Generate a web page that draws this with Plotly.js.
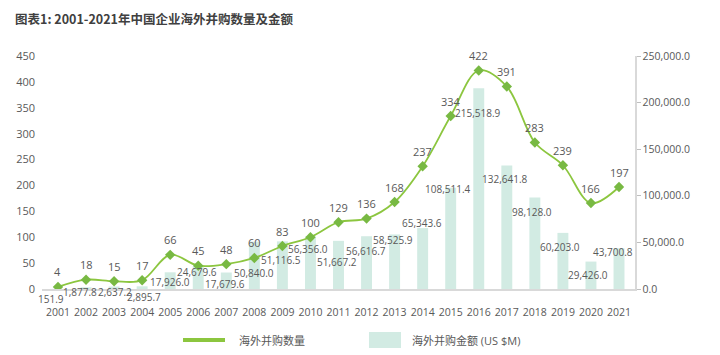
<!DOCTYPE html>
<html>
<head>
<meta charset="utf-8">
<script src="https://cdn.plot.ly/plotly-3.0.1.min.js"></script>
<style>
  html, body { margin: 0; padding: 0; background: #ffffff; }
  #chart { width: 720px; height: 355px; }
</style>
</head>
<body>
<div id="chart"></div>
<script>
// ---- data ----
const years = ['2001','2002','2003','2004','2005','2006','2007','2008','2009','2010','2011',
               '2012','2013','2014','2015','2016','2017','2018','2019','2020','2021'];
const dealCount = [4, 18, 15, 17, 66, 45, 48, 60, 83, 100, 129, 136, 168, 237, 334, 422, 391, 283, 239, 166, 197];
const dealValue = [151.9, 1877.8, 2637.2, 2895.7, 17926.0, 24679.6, 17679.6, 50840.0, 51116.5, 56356.0, 51667.2,
                   56616.7, 58525.9, 65343.6, 108511.4, 215518.9, 132641.8, 98128.0, 60203.0, 29426.0, 43700.8];
const countName = '海外并购数量';
const valueName = '海外并购金额 (US $M)';
const titleText = '图表1: 2001-2021年中国企业海外并购数量及金额';

// ---- label placement (pixel offsets of the value labels from each bar top: [dx, dy-below]) ----
const valueLabelShift = [[-7,10],[-6,5],[1,5.5],[2,10.7],[0,9.7],[-1,6],[-1,11.5],[0,31],[-1,19],[-2,12.5],[-2,21.5],
                         [-1,14.5],[-2,5.5],[-1,-5],[-3,1],[-1,25],[-2,13.6],[-3,14.5],[-3,14],[-3,13.4],[-6,3.7]];

// ---- styles ----
const FONT = '"Open Sans", "Noto Sans CJK SC", sans-serif';
const TXT = '#595959';
const BAR = '#d2ebe3';
const LINE = '#8cc63f';
const MARK = '#78b943';

const fmt1 = v => v.toLocaleString('en-US', {minimumFractionDigits: 1, maximumFractionDigits: 1});

const lineTrace = {
  type: 'scatter', mode: 'lines+markers', name: countName,
  x: years, y: dealCount, yaxis: 'y2',
  line: {color: LINE, width: 1.8, shape: 'spline', smoothing: 1},
  marker: {symbol: 'diamond', size: 8, color: MARK},
  hoverinfo: 'skip', showlegend: false
};
const barTrace = {
  type: 'bar', name: valueName,
  x: years, y: dealValue, yaxis: 'y',
  marker: {color: BAR}, width: 0.39,
  hoverinfo: 'skip', showlegend: false
};

// category axis: annotations are positioned by category index
const annotations = [];
years.forEach((yr, i) => {
  annotations.push({
    x: i, y: dealValue[i], xref: 'x', yref: 'y',
    text: fmt1(dealValue[i]), showarrow: false,
    xanchor: 'center', yanchor: 'middle',
    xshift: valueLabelShift[i][0], yshift: -valueLabelShift[i][1],
    font: {family: FONT, size: 10, color: TXT}
  });
  annotations.push({
    x: i, y: dealCount[i], xref: 'x', yref: 'y2',
    text: String(dealCount[i]), showarrow: false,
    xanchor: 'center', yanchor: 'middle', yshift: 15,
    font: {family: FONT, size: 11, color: TXT}
  });
});

// manual legend (paper coordinates)
annotations.push({xref: 'paper', yref: 'paper', x: 0.3288, y: -0.219, xanchor: 'left', yanchor: 'middle',
  text: countName, showarrow: false, font: {family: FONT, size: 11, color: TXT}});
annotations.push({xref: 'paper', yref: 'paper', x: 0.6206, y: -0.219, xanchor: 'left', yanchor: 'middle',
  text: valueName, showarrow: false, font: {family: FONT, size: 11, color: TXT}});

const shapes = [
  {type: 'line', xref: 'paper', yref: 'paper', x0: 0.2378, x1: 0.3086, y0: -0.219, y1: -0.219,
   line: {color: LINE, width: 4}},
  {type: 'rect', xref: 'paper', yref: 'paper', x0: 0.5514, x1: 0.6054, y0: -0.2532, y1: -0.1845,
   line: {width: 0}, fillcolor: BAR}
];

const layout = {
  width: 720, height: 355,
  margin: {l: 42, r: 85, t: 56, b: 66},
  paper_bgcolor: '#ffffff', plot_bgcolor: '#ffffff',
  font: {family: FONT, size: 11, color: TXT},
  title: {
    text: titleText, xref: 'container', yref: 'container',
    x: 15/720, xanchor: 'left', y: 1 - 20/355, yanchor: 'middle',
    font: {family: '"Noto Sans CJK SC", "Open Sans", sans-serif', size: 12.5, color: '#404040', weight: 'bold'}
  },
  showlegend: false,
  xaxis: {
    type: 'category', range: [-0.57, 20.57],
    showline: true, linecolor: '#d9d9d9', linewidth: 1.5,
    ticks: '', showgrid: false, zeroline: false,
    tickfont: {family: FONT, size: 10.5, color: TXT},
    ticklabelstandoff: 13
  },
  yaxis: {
    side: 'right', range: [0, 250000], dtick: 50000, tickformat: ',.1f',
    showline: true, linecolor: '#d9d9d9', linewidth: 1.5,
    ticks: 'outside', ticklen: 4, tickcolor: '#bfbfbf', tickwidth: 1,
    showgrid: false, zeroline: false,
    tickfont: {family: FONT, size: 10.5, color: TXT}
  },
  yaxis2: {
    overlaying: 'y', side: 'left', range: [0, 450], dtick: 50,
    showline: false, ticks: '', showgrid: false, zeroline: false,
    tickfont: {family: FONT, size: 11, color: TXT},
    ticklabelstandoff: 6
  },
  annotations: annotations,
  shapes: shapes
};

Plotly.newPlot('chart', [barTrace, lineTrace], layout, {staticPlot: true, displayModeBar: false});
</script>
</body>
</html>
